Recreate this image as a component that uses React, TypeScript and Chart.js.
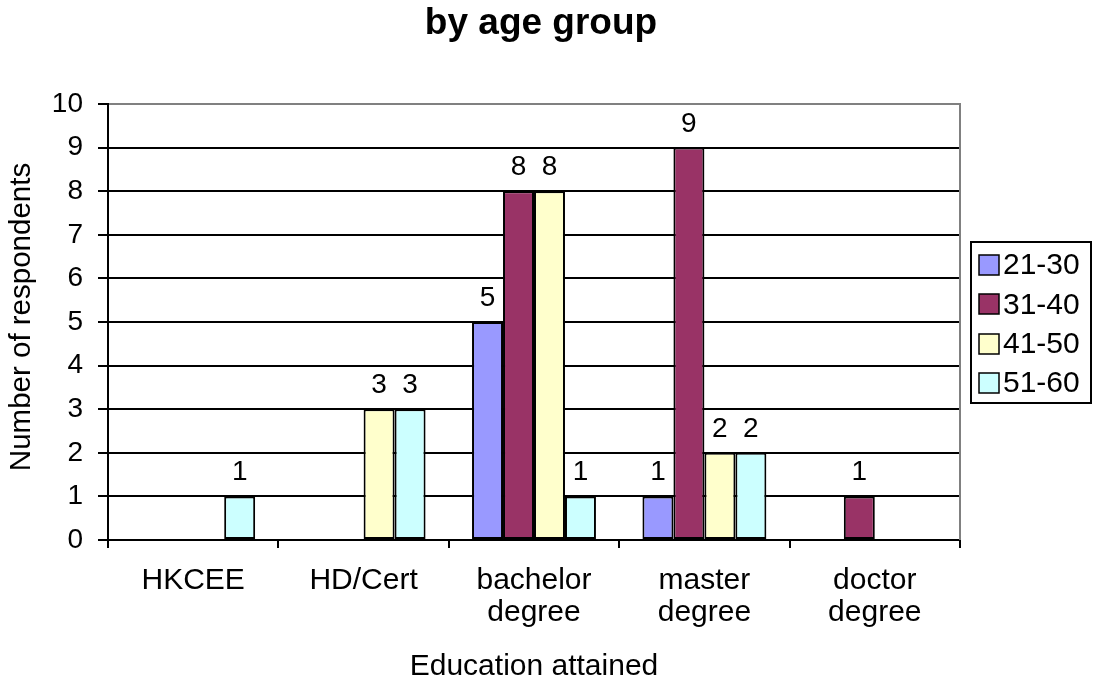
import { useEffect, useRef } from "react";
import { Chart, registerables } from "chart.js";

Chart.register(...registerables);

// Education levels on the category axis (multi-line labels as arrays)
const educationLevels: string[][] = [
  ["HKCEE"],
  ["HD/Cert"],
  ["bachelor", "degree"],
  ["master", "degree"],
  ["doctor", "degree"],
];

// Age groups (one series each)
const ageGroups = ["21-30", "31-40", "41-50", "51-60"];

// Respondent counts per education level; null = no respondents
const age21to30: (number | null)[] = [null, null, 5, 1, null];
const age31to40: (number | null)[] = [null, null, 8, 9, 1];
const age41to50: (number | null)[] = [null, 3, 8, 2, null];
const age51to60: (number | null)[] = [1, 3, 1, 2, null];

const seriesColors = ["#9999FF", "#993366", "#FFFFCC", "#CCFFFF"];

const yMin = 0;
const yMax = 10;
const yStep = 1;

const chartTitle = "by age group";
const xTitle = "Education attained";
const yTitle = "Number of respondents";

const FONT = "'Liberation Sans', Arial, Helvetica, sans-serif";

// Grey right-hand border of the plot area
const plotFrame = {
  id: "plotFrame",
  beforeDatasetsDraw(chart: any) {
    const { ctx, chartArea } = chart;
    ctx.save();
    ctx.strokeStyle = "#808080";
    ctx.lineWidth = 2;
    ctx.beginPath();
    const x = Math.round(chartArea.right);
    ctx.moveTo(x, Math.round(chartArea.top) - 1);
    ctx.lineTo(x, Math.round(chartArea.bottom));
    ctx.stroke();
    ctx.restore();
  },
};

// Value labels above each bar
const valueLabels = {
  id: "valueLabels",
  afterDatasetsDraw(chart: any) {
    const { ctx } = chart;
    ctx.save();
    ctx.font = `28px ${FONT}`;
    ctx.fillStyle = "#000";
    ctx.textAlign = "center";
    ctx.textBaseline = "alphabetic";
    chart.data.datasets.forEach((ds: any, di: number) => {
      const meta = chart.getDatasetMeta(di);
      meta.data.forEach((bar: any, i: number) => {
        const v = ds.data[i];
        if (v === null || v === undefined || v === 0) return;
        ctx.fillText(String(v), bar.x, bar.y - 16);
      });
    });
    ctx.restore();
  },
};

// Chart title, vertical axis title and boxed legend
const titleAndLegend = {
  id: "titleAndLegend",
  afterDraw(chart: any) {
    const { ctx, chartArea } = chart;
    ctx.save();
    ctx.fillStyle = "#000";
    ctx.font = `bold 37px ${FONT}`;
    ctx.textAlign = "center";
    ctx.textBaseline = "alphabetic";
    ctx.fillText(chartTitle, 541, 34);

    // vertical axis title
    ctx.save();
    ctx.translate(22, (chartArea.top + chartArea.bottom) / 2 - 5);
    ctx.rotate(-Math.PI / 2);
    ctx.font = `29.5px ${FONT}`;
    ctx.textAlign = "center";
    ctx.textBaseline = "middle";
    ctx.fillText(yTitle, 0, 0);
    ctx.restore();

    // legend box
    const bx = 971;
    const by = 242;
    const bw = 120;
    const bh = 161;
    ctx.strokeStyle = "#000";
    ctx.lineWidth = 2;
    ctx.strokeRect(bx, by, bw, bh);

    ctx.font = `30px ${FONT}`;
    ctx.textAlign = "left";
    ctx.textBaseline = "middle";
    ctx.lineWidth = 1.5;
    chart.data.datasets.forEach((ds: any, i: number) => {
      const cy = 265 + i * 39.3;
      const sx = 979;
      const sy = Math.round(cy - 10);
      ctx.fillStyle = ds.backgroundColor;
      ctx.fillRect(sx, sy, 20, 20);
      ctx.strokeStyle = "#000";
      ctx.strokeRect(sx, sy, 20, 20);
      ctx.fillStyle = "#000";
      ctx.fillText(ds.label, 1003, cy + 1);
    });
    ctx.restore();
  },
};

export default function App() {
  const canvasRef = useRef<HTMLCanvasElement | null>(null);

  useEffect(() => {
    if (!canvasRef.current) return;
    const seriesData = [age21to30, age31to40, age41to50, age51to60];

    const chart = new Chart(canvasRef.current, {
      type: "bar",
      data: {
        labels: educationLevels,
        datasets: ageGroups.map((label, i) => ({
          label,
          data: seriesData[i],
          backgroundColor: seriesColors[i],
          borderColor: "#000",
          borderWidth: 2,
          borderSkipped: false,
          categoryPercentage: 4 / 5.5,
          barPercentage: 1,
        })),
      },
      options: {
        animation: false,
        responsive: true,
        maintainAspectRatio: false,
        devicePixelRatio: 1,
        layout: { padding: { top: 104, right: 137, bottom: 0, left: 0 } },
        plugins: {
          legend: { display: false },
          title: { display: false },
          tooltip: { enabled: false },
        },
        scales: {
          x: {
            offset: true,
            grid: {
              offset: true,
              drawOnChartArea: false,
              drawTicks: true,
              tickLength: 8,
              color: "#000",
              lineWidth: 2,
            },
            border: { display: true, color: "#000", width: 2 },
            ticks: {
              color: "#000",
              padding: 17,
              maxRotation: 0,
              autoSkip: false,
              font: { family: FONT, size: 30, lineHeight: 1.07 },
            },
            title: {
              display: true,
              text: xTitle,
              color: "#000",
              font: { family: FONT, size: 30, lineHeight: 1.1 },
              padding: { top: 0, bottom: 0 },
            },
            afterFit(scale: any) {
              scale.height = 143;
            },
          },
          y: {
            min: yMin,
            max: yMax,
            ticks: {
              stepSize: yStep,
              color: "#000",
              padding: 15,
              font: { family: FONT, size: 28 },
            },
            grid: {
              color: (ctx: any) => (ctx.tick && ctx.tick.value === yMax ? "#808080" : "#000"),
              tickColor: "#000",
              tickLength: 10,
              lineWidth: 2,
            },
            border: { display: true, color: "#000", width: 2 },
            title: { display: false },
            afterFit(scale: any) {
              scale.width = 108;
            },
          },
        },
      },
      plugins: [plotFrame, valueLabels, titleAndLegend],
    });

    return () => chart.destroy();
  }, []);

  return (
    <div
      style={{
        position: "fixed",
        left: 0,
        top: 0,
        width: 1097,
        height: 683,
        background: "#fff",
      }}
    >
      <canvas ref={canvasRef} />
    </div>
  );
}
